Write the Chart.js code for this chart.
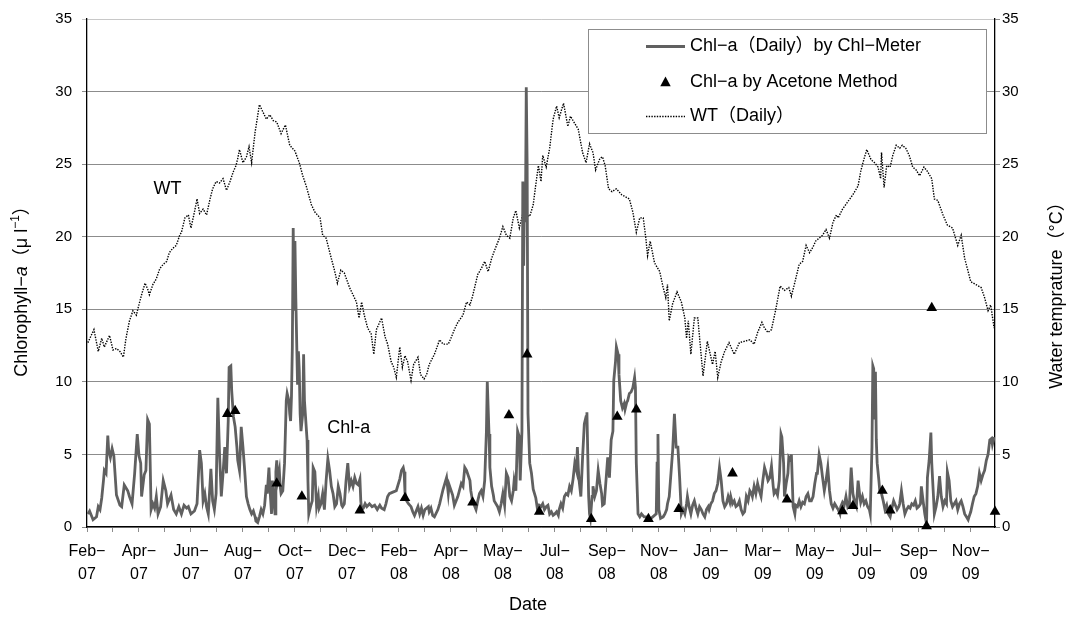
<!DOCTYPE html>
<html>
<head>
<meta charset="utf-8">
<script src="https://cdn.jsdelivr.net/npm/chart.js@4/dist/chart.umd.min.js"></script>
<style>
  html, body { margin: 0; padding: 0; background: #fff; }
  #wrap { width: 1069px; height: 617px; position: relative; }
</style>
</head>
<body>
<div id="wrap"><canvas id="c" width="1069" height="617"></canvas></div>
<script>
// Days are counted from 1 Feb 2007.
const tickLabels = ['Feb-07','Apr-07','Jun-07','Aug-07','Oct-07','Dec-07','Feb-08','Apr-08','May-08',
  'Jul-08','Sep-08','Nov-08','Jan-09','Mar-09','May-09','Jul-09','Sep-09','Nov-09'];

// Chl-a (daily) by Chl-Meter, [day, µg/l]
const chlMeter = [
  [1,0.9],[3,1.1],[7,0.5],[11,0.7],[13,1.4],[15,1.2],[17,2.0],[19,3.2],[20,3.9],[22,3.7],[24,6.3],[25,5.3],
  [27,4.8],[29,5.4],[31,4.9],[34,2.2],[38,1.5],[40,1.4],[43,2.9],[47,2.5],[49,2.1],[52,1.6],[55,3.7],[58,6.4],
  [60,4.9],[62,4.4],[63,2.1],[66,3.6],[68,3.9],[70,7.4],[72,7.1],[74,1.2],[76,1.6],[78,1.3],[80,2.1],[82,0.9],
  [85,1.4],[88,3.2],[91,2.5],[93,1.6],[97,2.2],[100,1.2],[103,0.9],[106,1.4],[109,0.9],[112,1.5],[115,1.3],
  [117,1.4],[120,0.9],[124,1.1],[127,1.6],[130,5.3],[132,4.4],[134,1.8],[136,2.3],[138,1.4],[140,0.9],[143,4.0],
  [145,1.8],[147,1.2],[149,2.3],[151,8.9],[153,5.0],[155,2.1],[157,3.7],[159,5.5],[161,3.7],[163,7.3],[164,11.0],
  [166,11.1],[167,9.4],[169,7.6],[171,6.9],[173,5.5],[174,4.6],[176,3.9],[178,6.9],[180,5.5],[182,3.9],[184,2.1],
  [186,1.6],[188,1.2],[190,0.9],[192,1.1],[194,0.7],[195,0.4],[197,0.3],[199,0.7],[201,1.2],[203,0.9],[205,1.5],
  [207,2.9],[208,2.3],[210,4.1],[211,2.8],[213,0.9],[214,3.2],[216,1.6],[217,0.9],[218,3.8],[219,4.6],[220,3.2],
  [222,3.9],[223,2.8],[224,2.3],[226,2.5],[228,4.4],[230,8.7],[231,9.2],[233,8.7],[234,7.8],[235,7.3],[236,9.0],
  [237,12.4],[238,20.6],[239,15.0],[240,19.7],[241,15.8],[243,9.8],[244,12.1],[245,10.8],[246,7.8],[247,6.6],
  [249,7.8],[250,11.9],[251,8.7],[252,7.8],[254,6.0],[255,3.2],[256,0.9],[258,1.4],[260,1.8],[261,4.1],[263,3.8],
  [265,1.4],[267,2.1],[268,1.3],[270,1.6],[272,2.3],[274,1.2],[276,3.2],[278,4.7],[280,3.9],[282,2.8],[284,2.3],
  [286,1.4],[288,1.6],[290,2.8],[292,2.3],[294,1.5],[295,1.4],[297,1.6],[299,3.2],[301,4.4],[303,2.8],[305,3.2],
  [307,2.8],[309,3.4],[311,3.0],[313,2.9],[315,3.3],[316,1.8],[317,1.2],[319,1.3],[321,1.6],[323,1.4],[326,1.6],
  [329,1.4],[332,1.5],[335,1.2],[338,1.5],[340,1.3],[343,1.2],[345,1.6],[347,2.1],[349,2.3],[353,2.4],[357,2.5],
  [359,2.9],[361,3.3],[363,3.9],[365,4.1],[366,3.8],[367,2.4],[369,1.8],[371,1.6],[374,1.4],[376,1.05],[378,0.8],
  [382,1.4],[384,0.9],[386,1.3],[388,0.8],[390,1.2],[394,1.4],[395,1.05],[397,1.3],[399,0.8],[401,0.7],[405,1.2],
  [407,1.6],[409,2.1],[411,2.6],[415,3.4],[417,2.3],[418,2.9],[422,2.2],[424,1.5],[428,2.1],[432,3.0],[434,2.8],
  [436,4.1],[438,3.9],[442,3.2],[443,2.5],[445,1.8],[449,1.2],[451,1.8],[453,2.3],[455,2.5],[457,2.1],[459,3.2],
  [461,6.6],[462,10.0],[464,6.4],[465,4.1],[467,2.8],[469,2.2],[470,1.8],[474,1.4],[476,1.05],[478,1.6],[480,2.3],
  [482,1.5],[484,3.7],[486,3.4],[488,2.1],[490,1.8],[492,2.5],[493,3.2],[495,2.5],[497,6.6],[499,6.2],[500,3.2],
  [502,6.6],[503,23.8],[504,18.0],[505,23.7],[506,21.0],[507,30.3],[508,25.0],[509,7.8],[511,4.4],[513,3.7],
  [515,2.6],[518,2.0],[520,1.2],[522,1.5],[524,1.4],[526,1.6],[528,1.2],[530,1.4],[532,1.5],[534,0.9],[536,1.05],
  [538,0.8],[540,0.9],[542,1.05],[544,0.8],[545,1.2],[547,1.6],[549,1.3],[551,2.1],[553,2.3],[555,2.2],[557,2.8],
  [559,2.5],[561,3.3],[563,4.4],[565,3.9],[566,5.5],[567,4.1],[568,3.2],[570,2.1],[572,4.8],[574,7.1],[576,7.6],
  [577,7.9],[579,2.1],[580,0.9],[581,0.6],[583,2.1],[584,2.8],[586,2.1],[588,2.5],[590,3.9],[592,3.0],[594,2.3],
  [595,1.5],[597,1.6],[599,3.2],[601,4.8],[603,3.4],[605,6.0],[607,6.6],[608,10.1],[610,11.4],[611,12.4],
  [613,11.9],[614,10.5],[616,8.7],[618,8.2],[620,8.5],[621,8.1],[623,8.6],[624,8.7],[626,9.2],[628,9.3],[630,9.6],
  [632,10.3],[633,9.6],[634,4.4],[636,0.9],[638,0.7],[640,0.9],[643,0.7],[647,0.7],[649,0.5],[653,0.7],[657,0.9],
  [658,4.4],[659,6.4],[660,1.2],[662,0.6],[665,0.7],[667,0.9],[669,1.2],[670,1.6],[672,2.1],[674,3.7],[676,5.3],
  [678,7.8],[680,5.5],[682,5.5],[684,3.4],[686,0.9],[688,1.2],[690,0.9],[692,1.6],[693,2.1],[695,1.4],[697,0.9],
  [699,1.5],[701,1.8],[703,1.3],[705,0.9],[707,1.4],[709,1.2],[711,0.9],[713,0.7],[715,1.2],[717,1.4],[718,1.2],
  [720,1.6],[722,1.8],[724,2.3],[726,2.5],[728,3.0],[730,4.1],[732,3.2],[734,1.8],[736,1.4],[738,1.6],[740,2.1],
  [742,1.7],[743,2.1],[745,1.6],[747,1.8],[749,1.4],[751,1.5],[753,1.8],[755,1.2],[757,0.9],[759,1.05],[761,2.1],
  [763,1.8],[765,2.5],[767,2.3],[768,2.1],[770,2.8],[772,2.3],[774,3.0],[776,2.5],[778,2.1],[780,3.2],[782,4.1],
  [784,3.7],[786,3.2],[788,3.4],[790,4.2],[792,2.8],[793,2.3],[795,2.5],[797,2.2],[799,3.2],[801,6.4],[802,6.2],
  [804,4.4],[805,2.1],[807,3.0],[809,3.7],[810,4.8],[812,4.6],[813,5.0],[814,3.2],[815,1.4],[817,0.9],[818,1.5],
  [820,1.4],[822,1.8],[824,1.4],[826,1.7],[828,1.6],[830,2.1],[832,2.3],[834,1.8],[836,1.8],[838,2.1],[840,3.0],
  [842,3.7],[843,3.7],[845,5.0],[847,4.4],[849,3.4],[851,2.5],[853,3.2],[855,4.1],[857,2.5],[859,1.6],[861,1.3],
  [863,1.6],[865,1.4],[867,1.2],[869,0.9],[870,1.4],[872,1.7],[874,1.5],[876,2.1],[878,1.4],[880,1.6],[882,4.1],
  [884,2.3],[886,1.7],[888,1.4],[890,3.2],[892,2.1],[893,1.7],[895,2.1],[897,1.6],[899,1.8],[901,1.4],[903,1.2],
  [904,0.9],[906,5.5],[907,11.1],[908,10.9],[909,7.4],[910,10.7],[911,6.0],[912,4.4],[914,3.2],[915,2.5],[917,2.3],
  [919,1.8],[921,1.2],[923,1.5],[925,0.9],[927,0.7],[929,1.3],[931,1.8],[933,1.5],[935,1.2],[937,1.4],[938,1.6],
  [940,2.5],[942,1.6],[944,0.9],[946,1.2],[948,1.4],[950,1.3],[952,1.6],[954,1.5],[956,1.8],[958,1.3],[960,1.4],
  [962,1.6],[963,2.8],[965,1.8],[967,0.9],[969,0.2],[970,3.4],[972,4.6],[974,6.5],[975,4.4],[977,2.1],[978,0.9],
  [980,1.4],[982,2.1],[984,3.5],[986,2.1],[988,1.4],[990,1.8],[992,1.6],[993,3.8],[995,3.2],[997,1.8],[999,1.4],
  [1001,1.6],[1003,1.8],[1005,1.2],[1007,1.6],[1009,1.8],[1011,1.4],[1013,0.9],[1015,0.7],[1017,0.5],[1018,0.7],
  [1020,1.05],[1022,1.6],[1024,2.1],[1026,2.3],[1028,2.8],[1030,3.7],[1032,3.2],[1034,3.6],[1036,3.9],[1038,4.6],
  [1040,5.0],[1042,6.0],[1044,6.1],[1045,5.7],[1047,6.2]
];

// Chl-a by acetone extraction, [day, µg/l]
const chlAcetone = [
  [162,7.8],[171,8.0],[219,3.0],[248,2.1],[315,1.15],[367,2.0],[445,1.7],[487,7.7],[508,11.9],[522,1.05],
  [582,0.55],[612,7.6],[634,8.1],[648,0.55],[683,1.25],[745,3.7],[808,1.9],[872,1.1],[884,1.45],[918,2.5],
  [927,1.15],[969,0.05],[975,15.1],[1048,1.05]
];

// Water temperature (daily), [day, °C]
const wtDaily = [
  [1,12.7],[8,13.6],[13,12.1],[17,13.0],[20,12.4],[26,13.2],[30,12.2],[34,12.3],[38,12.1],[42,11.7],[45,13.0],
  [49,14.2],[53,14.9],[57,14.6],[59,15.1],[63,16.0],[67,16.8],[70,16.4],[72,16.0],[76,16.7],[80,17.1],[84,17.8],
  [88,18.1],[92,18.3],[95,18.9],[99,19.2],[103,19.4],[107,20.1],[109,20.3],[113,21.3],[117,21.5],[120,20.6],
  [124,21.7],[127,22.6],[130,21.6],[134,21.9],[138,21.5],[142,22.6],[145,23.3],[149,23.8],[153,23.7],[157,24.0],
  [161,23.2],[165,23.8],[169,24.5],[172,24.9],[174,25.4],[176,26.0],[180,25.1],[184,25.5],[187,26.2],[190,25.1],
  [194,27.2],[199,29.1],[203,28.6],[207,28.1],[211,28.4],[215,28.0],[219,27.9],[224,27.1],[229,27.7],[234,26.3],
  [240,25.9],[245,25.1],[249,24.2],[253,23.5],[259,22.2],[263,21.7],[269,21.3],[272,20.1],[276,19.9],[282,18.5],
  [286,17.6],[289,16.8],[293,17.7],[297,17.5],[303,16.5],[307,16.0],[311,15.5],[314,14.4],[317,15.5],[320,14.6],
  [324,13.7],[328,13.3],[331,11.9],[334,13.6],[340,14.4],[344,13.1],[347,12.6],[351,11.4],[354,11.0],[357,10.3],
  [361,12.4],[364,11.0],[367,11.8],[370,11.4],[374,10.1],[377,11.2],[382,11.7],[385,10.5],[389,10.2],[392,10.5],
  [395,11.2],[401,11.9],[407,12.9],[411,12.6],[417,12.6],[420,13.0],[424,13.6],[428,14.1],[434,14.6],[438,15.5],
  [442,15.3],[445,15.9],[451,17.4],[455,17.8],[459,18.3],[463,17.6],[467,18.5],[470,19.0],[476,19.9],[480,20.7],
  [484,20.1],[488,19.9],[492,21.3],[495,21.8],[499,20.6],[503,21.6],[507,21.5],[511,21.4],[515,22.2],[518,23.6],
  [521,24.9],[524,23.8],[526,25.6],[530,24.8],[534,26.1],[538,28.1],[542,29.0],[545,28.2],[550,29.2],[555,27.6],
  [558,28.3],[563,27.8],[567,27.4],[572,25.8],[576,25.1],[580,26.4],[584,25.8],[587,24.6],[592,25.4],[595,25.5],
  [598,24.9],[602,23.3],[606,23.1],[611,23.3],[617,22.9],[626,22.6],[630,21.7],[634,20.3],[638,21.3],[642,21.3],
  [645,19.9],[647,18.7],[650,19.7],[655,18.2],[661,17.6],[665,16.5],[668,15.8],[670,16.7],[672,14.2],[676,15.4],
  [681,16.2],[686,15.5],[690,14.4],[692,13.0],[694,14.2],[697,11.9],[701,14.4],[705,14.4],[711,10.4],[716,12.8],
  [722,11.2],[725,12.1],[728,10.3],[732,11.4],[736,12.1],[741,12.7],[747,11.9],[753,12.7],[759,12.8],[765,12.9],
  [770,12.6],[774,13.4],[779,14.1],[782,13.7],[786,13.4],[790,13.6],[795,15.0],[800,16.6],[805,16.3],[810,16.5],
  [813,15.9],[818,17.1],[822,18.1],[826,18.3],[830,19.4],[834,18.9],[838,19.3],[841,19.7],[845,19.9],[849,20.1],
  [853,20.5],[857,19.9],[861,21.0],[865,21.5],[867,21.3],[872,21.9],[878,22.4],[884,22.9],[890,23.5],[893,24.5],
  [897,25.4],[900,26.0],[905,25.3],[909,25.1],[913,24.8],[916,24.0],[917,25.8],[920,23.4],[923,24.9],[927,24.8],
  [930,25.6],[934,26.3],[938,26.1],[941,26.3],[945,26.1],[949,25.6],[953,24.8],[957,24.6],[961,24.2],[966,24.8],
  [970,24.5],[975,24.0],[978,22.6],[982,22.5],[988,21.5],[993,20.8],[999,20.6],[1005,19.4],[1009,20.1],
  [1013,18.5],[1017,17.6],[1020,16.9],[1026,16.7],[1032,16.5],[1036,15.8],[1040,14.9],[1043,15.3],[1047,13.7]
];

const DAYS_SHOWN = 1048;     // x-axis span in days
const TICK_DAYS = 30;        // minor tick spacing; every second tick carries a label

const FONT = "'Liberation Sans', Arial, 'Noto Sans CJK JP', sans-serif";
const toXY = arr => arr.map(([d, v]) => ({ x: d, y: v }));

// Axis titles, in-plot labels and the boxed legend
const decor = {
  id: 'decor',
  afterDatasetsDraw(chart) {
    const { ctx, chartArea: a, scales } = chart;
    const ds = chart.data.datasets;
    ctx.save();
    ctx.fillStyle = '#000';
    ctx.textBaseline = 'middle';

    // in-plot series labels
    ctx.font = `18px ${FONT}`;
    ctx.textAlign = 'center';
    ctx.fillText('WT', scales.x.getPixelForValue(93), scales.y.getPixelForValue(23.3));
    ctx.fillText('Chl-a', scales.x.getPixelForValue(302), scales.y.getPixelForValue(6.8));

    // x title
    ctx.fillText('Date', (a.left + a.right) / 2 - 13, 605);

    // left title with italic a and superscript
    const parts = [
      ['Chlorophyll\u2212', `18px ${FONT}`, 0],
      ['a', `italic 18px ${FONT}`, 0],
      ['\uff08\u03bc l', `18px ${FONT}`, 0],
      ['\u22121', `12px ${FONT}`, -6],
      ['\uff09', `18px ${FONT}`, 0]
    ];
    let total = 0;
    parts.forEach(p => { ctx.font = p[1]; total += ctx.measureText(p[0]).width; });
    ctx.save();
    ctx.translate(22, 287);
    ctx.rotate(-Math.PI / 2);
    ctx.textAlign = 'left';
    let px = -total / 2;
    parts.forEach(p => {
      ctx.font = p[1];
      ctx.fillText(p[0], px, p[2]);
      px += ctx.measureText(p[0]).width;
    });
    ctx.restore();

    // right title
    ctx.save();
    ctx.translate(1057, 291);
    ctx.rotate(-Math.PI / 2);
    ctx.textAlign = 'center';
    ctx.font = `18px ${FONT}`;
    ctx.fillText('Water temprature\uff08\u00b0C\uff09', 0, 0);
    ctx.restore();

    // legend box
    const bx = a.right - 407, by = a.top + 10, bw = 398, bh = 104;
    ctx.fillStyle = '#fff';
    ctx.fillRect(bx, by, bw, bh);
    ctx.strokeStyle = '#8c8c8c';
    ctx.lineWidth = 1;
    ctx.strokeRect(bx + 0.5, by + 0.5, bw, bh);
    const rows = [by + 17, by + 53, by + 87];
    const sx0 = bx + 58, sx1 = bx + 97, tx = bx + 102;
    ds.forEach((d, i) => {
      const y = rows[i];
      ctx.save();
      if (d.showLine === false) {
        const r = 5.5, cx = (sx0 + sx1) / 2;
        ctx.fillStyle = d.backgroundColor;
        ctx.beginPath();
        ctx.moveTo(cx, y - r);
        ctx.lineTo(cx + r * 0.95, y + r * 0.75);
        ctx.lineTo(cx - r * 0.95, y + r * 0.75);
        ctx.closePath();
        ctx.fill();
      } else {
        ctx.strokeStyle = d.borderColor;
        ctx.lineWidth = d.borderWidth;
        ctx.setLineDash(d.borderDash || []);
        ctx.beginPath();
        ctx.moveTo(sx0, y + 0.5);
        ctx.lineTo(sx1, y + 0.5);
        ctx.stroke();
      }
      ctx.restore();
      ctx.fillStyle = '#000';
      ctx.font = `18px ${FONT}`;
      ctx.textAlign = 'left';
      ctx.fillText(d.label, tx, y);
    });
    ctx.restore();
  }
};

const bgPlugin = {
  id: 'bg',
  beforeDraw(chart) {
    const c = chart.ctx;
    c.save();
    c.fillStyle = '#fff';
    c.fillRect(0, 0, chart.width, chart.height);
    c.restore();
  }
};

new Chart(document.getElementById('c'), {
  type: 'line',
  data: {
    datasets: [
      {
        label: 'Chl\u2212a\uff08Daily\uff09by Chl\u2212Meter',
        data: toXY(chlMeter),
        borderColor: '#606060',
        borderWidth: 2.8,
        pointRadius: 0,
        tension: 0,
        yAxisID: 'y',
        order: 1
      },
      {
        label: 'Chl\u2212a by Acetone Method',
        data: toXY(chlAcetone),
        showLine: false,
        pointStyle: 'triangle',
        pointRadius: 6.2,
        backgroundColor: '#000',
        borderColor: '#000',
        borderWidth: 0,
        yAxisID: 'y',
        clip: false,
        order: 0
      },
      {
        label: 'WT\uff08Daily\uff09',
        data: toXY(wtDaily),
        borderColor: '#000',
        borderWidth: 1.4,
        borderDash: [1.4, 1.3],
        pointRadius: 0,
        tension: 0,
        yAxisID: 'y2',
        order: 2
      }
    ]
  },
  options: {
    responsive: false,
    animation: false,
    events: [],
    layout: { padding: { top: 16, left: 0, right: 0, bottom: 0 } },
    plugins: { legend: { display: false }, tooltip: { enabled: false } },
    scales: {
      x: {
        type: 'linear',
        min: 0,
        max: DAYS_SHOWN,
        afterFit: s => { s.height = 90; },
        border: { display: true, color: '#000', width: 1.3 },
        grid: { drawOnChartArea: false, drawTicks: true, tickLength: 5, color: '#8c8c8c' },
        ticks: {
          stepSize: TICK_DAYS,
          includeBounds: false,
          autoSkip: false,
          maxRotation: 0,
          padding: 8,
          color: '#000',
          font: { family: FONT, size: 16, lineHeight: 1.45 },
          callback: v => {
            const i = Math.round(v / TICK_DAYS);
            if (i % 2 !== 0) return '';
            const lab = tickLabels[i / 2];
            if (!lab) return '';
            const [m, y] = lab.split('-');
            return [m + '\u2212', y];
          }
        }
      },
      y: {
        position: 'left',
        min: 0,
        max: 35,
        afterFit: s => { s.width = 87; },
        border: { display: true, color: '#000', width: 1.3 },
        grid: {
          color: c => (c.tick && c.tick.value === 35 ? '#c8c8c8' : '#8c8c8c'),
          tickLength: 5,
          lineWidth: 1
        },
        ticks: { stepSize: 5, padding: 10, color: '#000', font: { family: FONT, size: 15 } }
      },
      y2: {
        position: 'right',
        min: 0,
        max: 35,
        afterFit: s => { s.width = 74; },
        border: { display: true, color: '#000', width: 1.3 },
        grid: { drawOnChartArea: false, tickLength: 5, color: '#8c8c8c' },
        ticks: { stepSize: 5, padding: 2, color: '#000', font: { family: FONT, size: 15 } }
      }
    }
  },
  plugins: [bgPlugin, decor]
});
</script>
</body>
</html>
